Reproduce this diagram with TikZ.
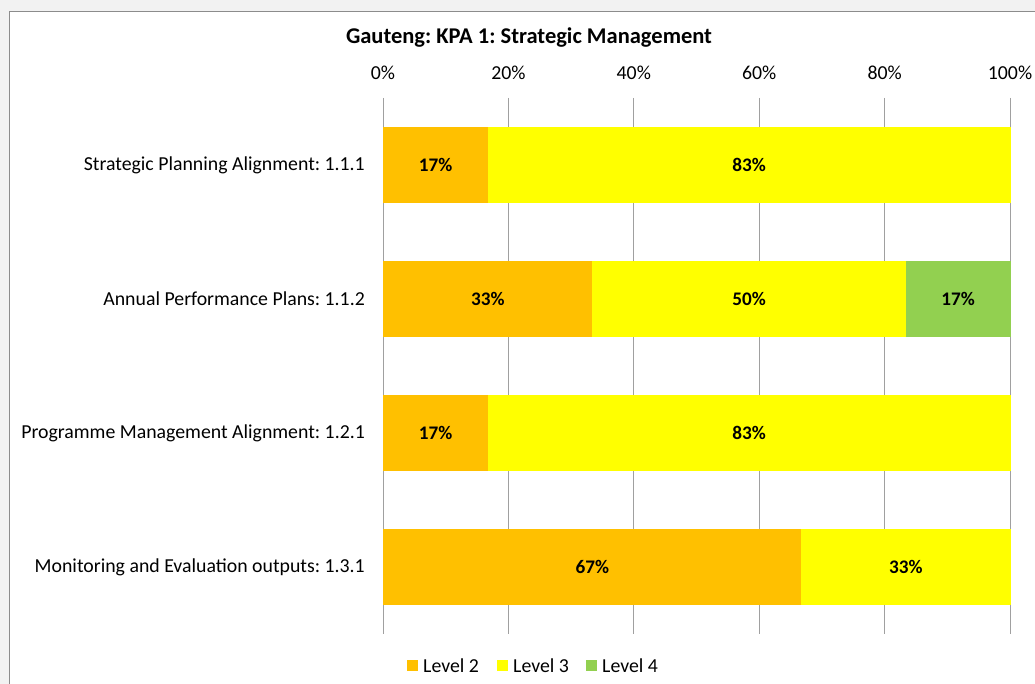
\documentclass[tikz,border=0pt]{standalone}
\usepackage{fontspec}
\setmainfont{Carlito}
\frenchspacing
\definecolor{lvtwo}{HTML}{FFC000}
\definecolor{lvthree}{HTML}{FFFF00}
\definecolor{lvfour}{HTML}{92D050}
\definecolor{gridgray}{HTML}{A0A0A0}
\definecolor{framegray}{HTML}{8C8C8C}
\definecolor{outergray}{HTML}{F2F2F2}
\tikzset{
  seg/.style={inner sep=0pt, minimum height=75.4pt, line width=0.6pt, anchor=west, font=\fontsize{19.2}{22}\selectfont\bfseries},
  segtwo/.style={seg, fill=lvtwo, draw=lvtwo},
  segthree/.style={seg, fill=lvthree, draw=lvthree},
  segfour/.style={seg, fill=lvfour, draw=lvfour},
  cat/.style={anchor=east, inner sep=0pt, font=\fontsize{19.8}{23}\selectfont},
  tick/.style={anchor=center, inner sep=0pt, font=\fontsize{19.8}{23}\selectfont},
  grid line/.style={draw=gridgray, line width=1pt},
  legbox/.style={inner sep=0pt, minimum size=11pt, draw=none},
  legtext/.style={anchor=west, inner sep=0pt, font=\fontsize{19.8}{23}\selectfont}
}
\begin{document}
\begin{tikzpicture}[x=1pt,y=-1pt]
\useasboundingbox (0,0) rectangle (1035,684);
\fill[outergray] (0,0) rectangle (1035,684);
\begin{scope}
\clip (0,0) rectangle (1035,684);
\draw[framegray, fill=white, line width=1pt] (9.5,11.5) rectangle (1050,700);
\end{scope}
% title
\node[inner sep=0pt, font=\fontsize{22.5}{26}\selectfont\bfseries] (title) at (529,38) {Gauteng: KPA 1: Strategic Management};
% gridlines and tick labels
\foreach \i/\lab in {0/0\%,1/20\%,2/40\%,3/60\%,4/80\%,5/100\%}{
  \coordinate (gt\i) at ({383+125.4*\i},98);
  \coordinate (gb\i) at ({383+125.4*\i},634);
  \draw[grid line] (gt\i) -- (gb\i);
  \node[tick] (t\i) at ({383+125.4*\i},73) {\lab};
}
% bar 1
\node[segtwo, minimum width=103.9pt] (b1a) at (383.3,165) {17\%};
\node[segthree, minimum width=521.9pt] (b1b) at (b1a.east) {83\%};
% bar 2
\node[segtwo, minimum width=208.4pt] (b2a) at (383.3,299) {33\%};
\node[segthree, minimum width=312.9pt] (b2b) at (b2a.east) {50\%};
\node[segfour, minimum width=103.9pt] (b2c) at (b2b.east) {17\%};
% bar 3
\node[segtwo, minimum width=103.9pt] (b3a) at (383.3,433) {17\%};
\node[segthree, minimum width=521.9pt] (b3b) at (b3a.east) {83\%};
% bar 4
\node[segtwo, minimum width=417.4pt] (b4a) at (383.3,567) {67\%};
\node[segthree, minimum width=208.4pt] (b4b) at (b4a.east) {33\%};
% category labels
\node[cat] (c1) at (365,165) {Strategic Planning Alignment: 1.1.1};
\node[cat] (c2) at (365,299) {Annual Performance Plans: 1.1.2};
\node[cat] (c3) at (365,433) {Programme Management Alignment: 1.2.1};
\node[cat] (c4) at (365,567) {Monitoring and Evaluation outputs: 1.3.1};
% legend
\node[legbox, fill=lvtwo] (l2) at (412.5,665.5) {};
\node[legtext] (l2t) at (423,665.5) {Level 2};
\node[legbox, fill=lvthree] (l3) at (502.5,665.5) {};
\node[legtext] (l3t) at (513,665.5) {Level 3};
\node[legbox, fill=lvfour] (l4) at (591.5,665.5) {};
\node[legtext] (l4t) at (602,665.5) {Level 4};
\end{tikzpicture}
\end{document}
